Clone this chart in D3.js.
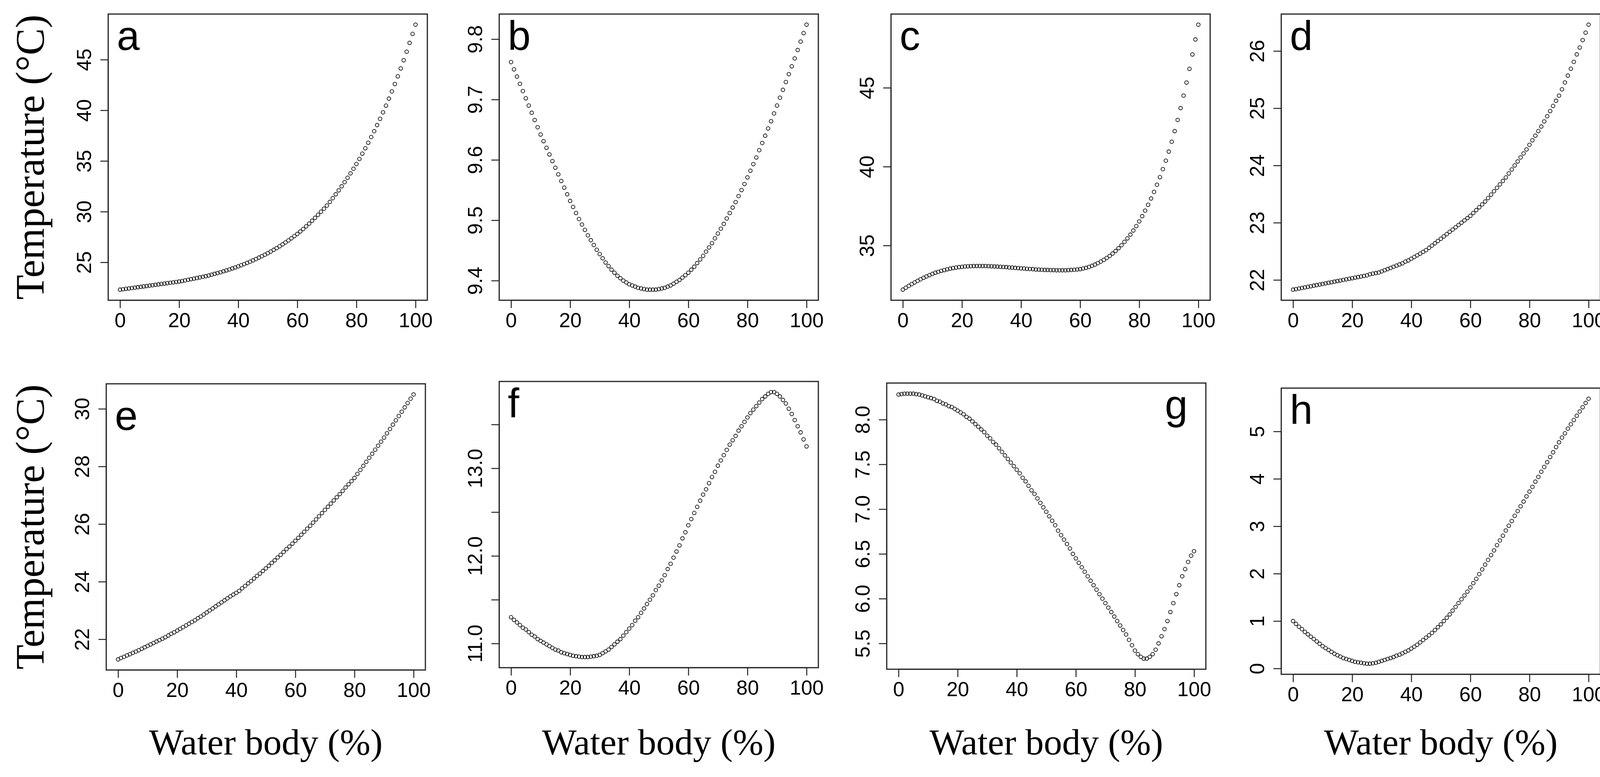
<!DOCTYPE html>
<html><head><meta charset="utf-8">
<script src="https://cdn.jsdelivr.net/npm/d3@7/dist/d3.min.js"></script>
<style>html,body{margin:0;padding:0;background:#fff;overflow:hidden}svg{display:block}</style></head>
<body><svg id="c" width="4139" height="1990"></svg>
<script>
const panelLabels = ["a","b","c","d","e","f","g","h"];
const xTicks = [0,20,40,60,80,100];
const yTicksA = [25,30,35,40,45];
const yTicksB = [9.4,9.5,9.6,9.7,9.8];
const yTicksC = [35,40,45];
const yTicksD = [22,23,24,25,26];
const yTicksE = [22,24,26,28,30];
const yTicksF = [11.0,11.5,12.0,12.5,13.0,13.5];
const yTicksFLabeled = [11.0,12.0,13.0];
const yTicksG = [5.5,6.0,6.5,7.0,7.5,8.0];
const yTicksH = [0,1,2,3,4,5];

const seriesA = [22.30,22.34,22.38,22.42,22.46,22.50,22.54,22.58,22.62,22.66,22.70,
22.74,22.78,22.82,22.86,22.90,22.94,22.98,23.02,23.06,23.10,
23.15,23.21,23.27,23.33,23.39,23.45,23.51,23.57,23.63,23.70,
23.78,23.86,23.94,24.02,24.11,24.20,24.29,24.39,24.49,24.60,
24.71,24.82,24.94,25.06,25.19,25.32,25.46,25.60,25.75,25.90,
26.06,26.23,26.40,26.58,26.77,26.96,27.16,27.37,27.58,27.80,
28.04,28.29,28.55,28.82,29.10,29.39,29.69,29.99,30.29,30.60,
30.96,31.33,31.71,32.10,32.50,32.91,33.34,33.78,34.23,34.70,
35.20,35.72,36.25,36.80,37.36,37.94,38.54,39.16,39.80,40.46,
41.15,41.86,42.59,43.35,44.13,44.94,45.78,46.65,47.54,48.45];
const seriesB = [9.762,9.750,9.738,9.726,9.714,9.702,9.690,9.678,9.666,9.654,9.642,
9.631,9.620,9.609,9.598,9.587,9.576,9.565,9.554,9.543,9.532,
9.522,9.512,9.502,9.493,9.484,9.475,9.467,9.459,9.451,9.444,
9.437,9.430,9.424,9.418,9.413,9.408,9.404,9.400,9.397,9.394,
9.392,9.390,9.388,9.387,9.386,9.385,9.385,9.385,9.385,9.386,
9.387,9.388,9.390,9.392,9.395,9.398,9.401,9.405,9.409,9.413,
9.418,9.423,9.429,9.435,9.441,9.448,9.455,9.462,9.470,9.478,
9.486,9.494,9.503,9.512,9.521,9.530,9.540,9.550,9.560,9.571,
9.582,9.593,9.604,9.616,9.628,9.640,9.652,9.664,9.677,9.690,
9.703,9.716,9.729,9.742,9.755,9.768,9.782,9.796,9.810,9.824];
const seriesC = [32.20,32.32,32.44,32.55,32.66,32.76,32.86,32.95,33.04,33.12,33.20,
33.27,33.33,33.39,33.44,33.49,33.53,33.57,33.60,33.63,33.65,
33.67,33.68,33.69,33.70,33.70,33.70,33.70,33.70,33.69,33.68,
33.67,33.66,33.65,33.64,33.63,33.61,33.60,33.58,33.57,33.55,
33.54,33.52,33.51,33.50,33.48,33.47,33.46,33.45,33.45,33.44,
33.44,33.43,33.43,33.43,33.43,33.44,33.45,33.46,33.48,33.50,
33.54,33.58,33.64,33.71,33.79,33.88,33.98,34.09,34.21,34.34,
34.49,34.65,34.83,35.02,35.23,35.45,35.69,35.95,36.23,36.53,
36.86,37.21,37.58,37.98,38.40,38.85,39.33,39.84,40.38,40.95,
41.58,42.25,42.96,43.71,44.50,45.33,46.20,47.11,48.06,49.00];
const seriesD = [21.83,21.84,21.85,21.86,21.87,21.88,21.89,21.90,21.91,21.92,21.93,
21.94,21.95,21.96,21.97,21.98,21.99,22.00,22.01,22.02,22.03,
22.04,22.05,22.06,22.07,22.08,22.10,22.11,22.12,22.13,22.15,
22.17,22.19,22.21,22.23,22.25,22.27,22.29,22.32,22.34,22.37,
22.40,22.43,22.46,22.49,22.52,22.56,22.60,22.64,22.68,22.72,
22.76,22.80,22.84,22.88,22.92,22.96,23.00,23.04,23.08,23.12,
23.17,23.22,23.27,23.32,23.37,23.43,23.49,23.55,23.61,23.67,
23.73,23.79,23.86,23.93,24.00,24.07,24.14,24.21,24.28,24.36,
24.44,24.52,24.60,24.68,24.77,24.86,24.95,25.04,25.13,25.22,
25.33,25.45,25.57,25.69,25.81,25.94,26.06,26.19,26.32,26.46];
const seriesE = [21.30,21.35,21.39,21.44,21.48,21.53,21.57,21.62,21.67,21.72,21.77,
21.82,21.87,21.92,21.97,22.02,22.07,22.13,22.19,22.24,22.30,
22.36,22.42,22.48,22.54,22.60,22.66,22.73,22.79,22.86,22.93,
23.00,23.07,23.14,23.21,23.28,23.35,23.42,23.49,23.55,23.61,
23.68,23.77,23.85,23.94,24.02,24.11,24.20,24.28,24.37,24.46,
24.55,24.65,24.74,24.84,24.93,25.03,25.13,25.22,25.32,25.42,
25.52,25.63,25.73,25.84,25.94,26.05,26.16,26.27,26.38,26.49,
26.60,26.71,26.82,26.93,27.04,27.15,27.27,27.38,27.49,27.60,
27.74,27.88,28.02,28.16,28.30,28.44,28.58,28.72,28.86,29.00,
29.15,29.30,29.45,29.60,29.75,29.90,30.05,30.20,30.35,30.50];
const seriesF = [11.30,11.27,11.24,11.21,11.18,11.16,11.13,11.10,11.08,11.05,11.03,
11.01,10.99,10.97,10.95,10.93,10.92,10.90,10.89,10.88,10.87,
10.86,10.855,10.85,10.845,10.845,10.845,10.85,10.855,10.86,10.87,
10.89,10.91,10.93,10.96,10.99,11.02,11.05,11.09,11.13,11.17,
11.21,11.26,11.30,11.35,11.40,11.45,11.50,11.55,11.61,11.66,
11.72,11.78,11.85,11.91,11.98,12.05,12.12,12.20,12.27,12.35,
12.42,12.49,12.56,12.63,12.70,12.76,12.83,12.90,12.96,13.03,
13.09,13.15,13.21,13.27,13.32,13.37,13.43,13.48,13.53,13.58,
13.63,13.67,13.71,13.75,13.79,13.82,13.85,13.87,13.87,13.85,
13.82,13.78,13.74,13.68,13.62,13.55,13.48,13.41,13.33,13.25];
const seriesG = [8.28,8.285,8.29,8.29,8.29,8.29,8.285,8.28,8.27,8.26,8.25,
8.24,8.23,8.21,8.20,8.18,8.17,8.15,8.14,8.12,8.10,
8.08,8.06,8.03,8.01,7.98,7.95,7.92,7.89,7.86,7.82,
7.79,7.75,7.72,7.68,7.64,7.60,7.56,7.52,7.48,7.44,
7.40,7.35,7.31,7.26,7.21,7.17,7.12,7.07,7.02,6.97,
6.92,6.87,6.82,6.76,6.71,6.66,6.61,6.56,6.50,6.45,
6.40,6.35,6.30,6.25,6.20,6.15,6.10,6.05,6.00,5.95,
5.90,5.85,5.80,5.75,5.70,5.65,5.60,5.54,5.48,5.42,
5.38,5.35,5.33,5.33,5.35,5.38,5.43,5.50,5.58,5.66,
5.75,5.85,5.95,6.05,6.15,6.25,6.33,6.41,6.48,6.53];
const seriesH = [1.00,0.94,0.88,0.83,0.77,0.72,0.67,0.62,0.57,0.52,0.47,
0.43,0.39,0.35,0.31,0.28,0.25,0.22,0.20,0.18,0.16,
0.14,0.13,0.12,0.11,0.10,0.10,0.11,0.12,0.14,0.16,
0.18,0.20,0.22,0.24,0.27,0.29,0.32,0.35,0.38,0.42,
0.46,0.50,0.55,0.60,0.65,0.70,0.75,0.81,0.87,0.93,
1.00,1.07,1.14,1.22,1.30,1.38,1.46,1.54,1.62,1.71,
1.80,1.89,1.99,2.09,2.19,2.29,2.39,2.49,2.60,2.70,
2.80,2.91,3.01,3.11,3.22,3.32,3.42,3.52,3.63,3.73,
3.83,3.94,4.04,4.15,4.25,4.35,4.46,4.56,4.67,4.77,
4.87,4.96,5.06,5.15,5.24,5.33,5.42,5.51,5.60,5.69];
const xLabel = "Water body (%)";
const yLabel = "Temperature (°C)";

const series = [seriesA,seriesB,seriesC,seriesD,seriesE,seriesF,seriesG,seriesH];
const yTicks = [yTicksA,yTicksB,yTicksC,yTicksD,yTicksE,yTicksF,yTicksG,yTicksH];
const yFmt = [d3.format("d"),d3.format(".1f"),d3.format("d"),d3.format("d"),d3.format("d"),
  d=>yTicksFLabeled.includes(d)?d3.format(".1f")(d):"",d3.format(".1f"),d3.format("d")];
const lefts = [277,1278,2281,3280, 272,1278,2270,3280];
const tops = [36,36,36,36, 983,977,981,994];
const W = 817, H = 733;
const svg = d3.select("#c");
const tickFont = "'Liberation Sans', Arial, sans-serif";

series.forEach((vals, i) => {
  const g = svg.append("g").attr("transform", `translate(${lefts[i]},${tops[i]})`);
  const ext = d3.extent(vals), pad = (ext[1]-ext[0])*0.04;
  const x = d3.scaleLinear().domain([-4,104]).range([0,W]);
  const y = d3.scaleLinear().domain([ext[0]-pad, ext[1]+pad]).range([H,0]);
  const xa = g.append("g").attr("transform",`translate(0,${H})`)
    .call(d3.axisBottom(x).tickValues(xTicks).tickSize(20).tickPadding(12).tickFormat(d3.format("d")));
  const ya = g.append("g")
    .call(d3.axisLeft(y).tickValues(yTicks[i]).tickSize(20).tickPadding(10).tickFormat(yFmt[i]));
  [xa,ya].forEach(a=>{
    a.selectAll("path").attr("stroke","#222").attr("stroke-width",2.5);
    a.selectAll("line").attr("stroke","#222").attr("stroke-width",2.5);
    a.selectAll("text").attr("font-family",tickFont).attr("font-size",52).attr("fill","#000");
  });
  xa.select("path").attr("d",`M${x(0)},0H${x(100)}`);
  const yt = yTicks[i];
  ya.select("path").attr("d",`M0,${y(yt[0])}V${y(yt[yt.length-1])}`);
  ya.selectAll(".tick text").attr("transform","rotate(-90)").attr("x",0).attr("y",-44)
    .attr("dy","0").attr("text-anchor","middle");
  g.append("rect").attr("width",W).attr("height",H).attr("fill","none")
    .attr("stroke","#222").attr("stroke-width",3);
  g.selectAll("circle.pt").data(vals).join("circle").attr("class","pt")
    .attr("cx",(d,j)=>x(j)).attr("cy",d=>y(d)).attr("r",4.6)
    .attr("fill","none").attr("stroke","#111").attr("stroke-width",1.8);
  const isG = i===6;
  g.append("text").text(panelLabels[i])
    .attr("x", isG ? W-105 : 22).attr("y", i===4 ? 118 : 92)
    .attr("font-family",tickFont).attr("font-size",105).attr("fill","#000");
  if (i%4===0) {
    const cy = tops[i]+H/2;
    svg.append("text").text(yLabel).attr("transform",`translate(112,${cy}) rotate(-90)`)
      .attr("text-anchor","middle").attr("font-family","'Liberation Serif', serif")
      .attr("font-size",104).attr("fill","#000");
  }
  if (i>=4) {
    svg.append("text").text(xLabel).attr("x",lefts[i]+W/2).attr("y",1932)
      .attr("text-anchor","middle").attr("font-family","'Liberation Serif', serif")
      .attr("font-size",94).attr("fill","#000");
  }
});
</script></body></html>
